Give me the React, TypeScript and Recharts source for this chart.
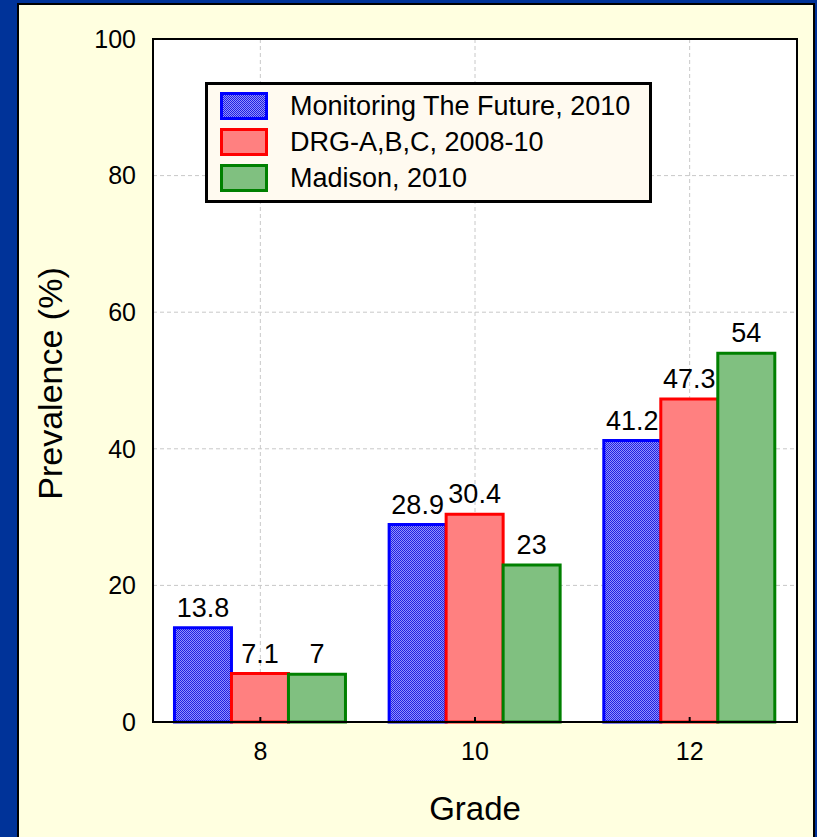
import React from 'react';
import { BarChart, Bar, XAxis, YAxis, CartesianGrid, LabelList } from 'recharts';

const grades = ['8', '10', '12'];
const mtf2010 = [13.8, 28.9, 41.2];
const drgABC = [7.1, 30.4, 47.3];
const madison2010 = [7, 23, 54];
const yTicks = [0, 20, 40, 60, 80, 100];

const series = [
  { key: 'mtf', name: 'Monitoring The Future, 2010', values: mtf2010, fill: 'url(#bluePat)', stroke: '#0000FF' },
  { key: 'drg', name: 'DRG-A,B,C, 2008-10', values: drgABC, fill: '#FF8080', stroke: '#FF0000' },
  { key: 'mad', name: 'Madison, 2010', values: madison2010, fill: '#80C080', stroke: '#008000' },
];

const data = grades.map((g, i) => {
  const row: any = { grade: g };
  series.forEach((s) => { row[s.key] = s.values[i]; });
  return row;
});

const FONT = '"Liberation Sans", Arial, Helvetica, sans-serif';

export default function App() {
  return (
    <div style={{ position: 'absolute', left: 0, top: 0, width: 817, height: 837, background: '#003399', overflow: 'hidden', fontFamily: FONT }}>
      <svg width={0} height={0} style={{ position: 'absolute' }}>
        <defs>
          <pattern id="bluePat" patternUnits="userSpaceOnUse" width={2} height={2}>
            <rect x={0} y={0} width={2} height={2} fill="#9090FF" />
            <rect x={0} y={0} width={1} height={1} fill="#2020E0" />
            <rect x={1} y={1} width={1} height={1} fill="#2020E0" />
          </pattern>
        </defs>
      </svg>
      <div style={{ position: 'absolute', left: 17, top: 3, width: 798, height: 850, background: '#FFFFE0', border: '2px solid #000', boxSizing: 'border-box' }} />
      <div style={{ position: 'absolute', left: 0, top: 0 }}>
        <BarChart width={817} height={837} data={data} margin={{ top: 39, right: 20, left: 0, bottom: 0 }} barGap={0} barCategoryGap="10%">
          <CartesianGrid fill="#FFFFFF" stroke="#C8C8C8" strokeDasharray="4 3" />
          <XAxis
            dataKey="grade"
            height={115}
            axisLine={{ stroke: '#000', strokeWidth: 2 }}
            tickLine={{ stroke: '#000', strokeWidth: 2 }}
            tickSize={-5}
            tickMargin={25}
            tick={{ fill: '#000', fontSize: 25 }}
            label={{ value: 'Grade', position: 'insideBottom', offset: 17, fontSize: 33, fill: '#000' }}
          />
          <XAxis
            xAxisId="top"
            dataKey="grade"
            orientation="top"
            height={0}
            axisLine={false}
            tickLine={{ stroke: '#000', strokeWidth: 2 }}
            tickSize={-5}
            tick={() => <g />}
          />
          <YAxis
            domain={[0, 100]}
            ticks={yTicks}
            width={153}
            axisLine={{ stroke: '#000', strokeWidth: 2 }}
            tickLine={false}
            tickSize={0}
            tickMargin={17}
            tick={{ fill: '#000', fontSize: 25 }}
            label={{
              content: (p: any) => {
                const vb = p.viewBox || { x: 0, y: 39, width: 153, height: 683 };
                const cx = vb.x + 62;
                const cy = vb.y + vb.height / 2 + 3;
                return (
                  <text x={cx} y={cy} transform={`rotate(-90 ${cx} ${cy})`} textAnchor="middle" fontSize={34} fill="#000">
                    Prevalence (%)
                  </text>
                );
              },
            }}
          />
          {series.map((s) => (
            <Bar key={s.key} dataKey={s.key} name={s.name} fill={s.fill} stroke={s.stroke} strokeWidth={3} isAnimationActive={false}>
              <LabelList dataKey={s.key} position="top" offset={11} fill="#000" fontSize={27} />
            </Bar>
          ))}
        </BarChart>
      </div>
      <div style={{ position: 'absolute', left: 152, top: 38, width: 646, height: 685, border: '2px solid #000', boxSizing: 'border-box', pointerEvents: 'none' }} />
      <div style={{ position: 'absolute', left: 205, top: 82, width: 447, height: 121, border: '3px solid #000', boxSizing: 'border-box', background: '#FFFAF0' }}>
        {series.map((s, i) => (
          <div key={s.key} style={{ position: 'absolute', left: 0, top: 7 + i * 36, height: 28, width: 440 }}>
            <svg width={48} height={28} style={{ position: 'absolute', left: 12, top: 0 }}>
              <rect x={1.5} y={1.5} width={45} height={25} fill={s.fill} stroke={s.stroke} strokeWidth={3} />
            </svg>
            <div style={{ position: 'absolute', left: 82, top: 14, transform: 'translateY(-50%)', fontSize: 27, lineHeight: '30px', color: '#000', whiteSpace: 'nowrap' }}>
              {s.name}
            </div>
          </div>
        ))}
      </div>
    </div>
  );
}
